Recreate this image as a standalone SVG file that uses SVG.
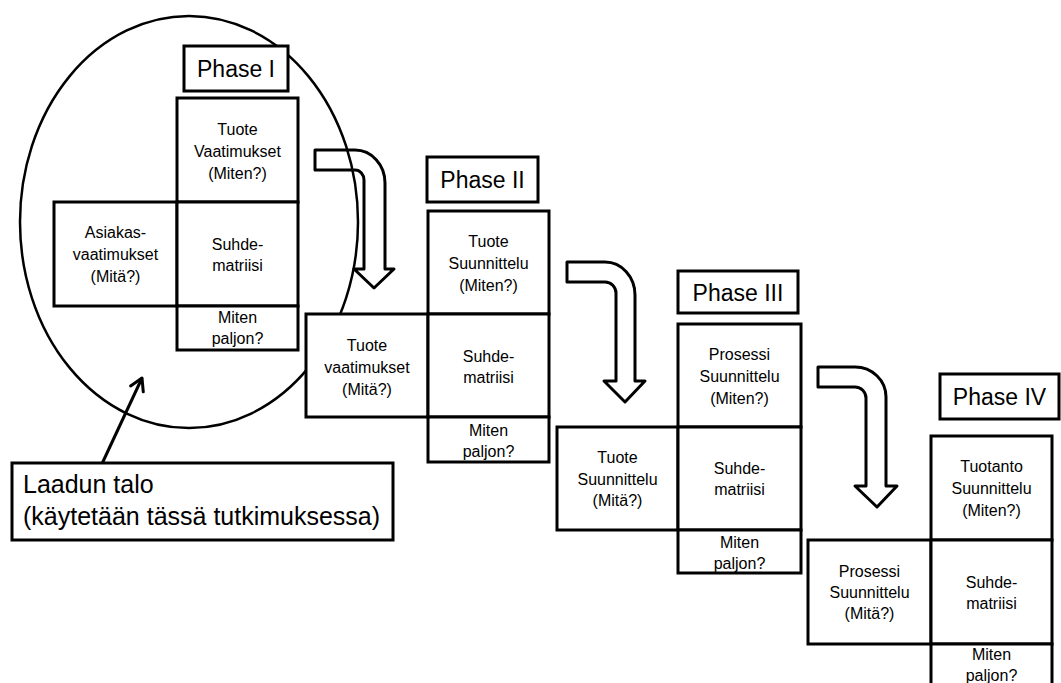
<svg xmlns="http://www.w3.org/2000/svg" width="1061" height="683" viewBox="0 0 1061 683">
<style>
.cell{fill:#fff;stroke:#000;stroke-width:3}
.arr{fill:none;stroke:#000;stroke-width:3;stroke-linejoin:round}
.t{font-family:"Liberation Sans",Arial,sans-serif;font-size:16px;text-anchor:middle;fill:#000}
.ph{font-family:"Liberation Sans",Arial,sans-serif;font-size:23px;text-anchor:middle;fill:#000}
.big{font-family:"Liberation Sans",Arial,sans-serif;font-size:25px;fill:#000}
</style>
<defs>
<marker id="open" viewBox="-14 -10 16 20" refX="0" refY="0" markerWidth="16" markerHeight="20" orient="auto" markerUnits="userSpaceOnUse">
<path d="M-12,-7 L0,0 L-12,7" fill="none" stroke="#000" stroke-width="3" stroke-linecap="round" stroke-linejoin="round"/>
</marker>
</defs>
<rect width="1061" height="683" fill="#fff"/>
<g id="qfd-highlight">
<ellipse cx="189" cy="222" rx="169" ry="206" fill="none" stroke="#000" stroke-width="2.5"/>
</g>
<g id="connectors">
<path class="arr" d="M315,150 H355 A30,33 0 0 1 385,183 V269 H394 L374,288 L354,269 H364 V180 A9,10 0 0 0 355,170 H315 Z"/>
<path class="arr" d="M567,262 H605 A30,33 0 0 1 635,295 V381 H645 L625,402 L604,381 H616 V293 A11,11 0 0 0 605,282 H567 Z"/>
<path class="arr" d="M818,367 H855 A31,30 0 0 1 886,397 V486 H897 L877,507 L855,486 H866 V398 A11,11 0 0 0 855,387 H818 Z"/>
<line x1="100" y1="468" x2="142" y2="378" stroke="#000" stroke-width="3" marker-end="url(#open)"/>
</g>
<g id="phase1">
<rect class="cell" x="184" y="46" width="104" height="45"/>
<text class="ph" x="236" y="77">Phase I</text>
<rect class="cell" x="177" y="98" width="121" height="104"/>
<text class="t" x="237.5" y="135">Tuote</text>
<text class="t" x="237.5" y="157">Vaatimukset</text>
<text class="t" x="237.5" y="179">(Miten?)</text>
<rect class="cell" x="54" y="202" width="123" height="104"/>
<text class="t" x="115.5" y="238">Asiakas-</text>
<text class="t" x="115.5" y="260">vaatimukset</text>
<text class="t" x="115.5" y="282">(Mitä?)</text>
<rect class="cell" x="177" y="202" width="121" height="104"/>
<text class="t" x="237.5" y="250">Suhde-</text>
<text class="t" x="237.5" y="271">matriisi</text>
<rect class="cell" x="177" y="306" width="121" height="44"/>
<text class="t" x="237.5" y="323">Miten</text>
<text class="t" x="237.5" y="344">paljon?</text>
</g>
<g id="phase2">
<rect class="cell" x="427" y="157" width="111" height="45"/>
<text class="ph" x="482.5" y="188">Phase II</text>
<rect class="cell" x="428" y="211" width="121" height="103"/>
<text class="t" x="488.5" y="247">Tuote</text>
<text class="t" x="488.5" y="269">Suunnittelu</text>
<text class="t" x="488.5" y="291">(Miten?)</text>
<rect class="cell" x="306" y="314" width="122" height="103"/>
<text class="t" x="367" y="351">Tuote</text>
<text class="t" x="367" y="373">vaatimukset</text>
<text class="t" x="367" y="395">(Mitä?)</text>
<rect class="cell" x="428" y="314" width="121" height="103"/>
<text class="t" x="488.5" y="362">Suhde-</text>
<text class="t" x="488.5" y="383">matriisi</text>
<rect class="cell" x="428" y="417" width="121" height="45"/>
<text class="t" x="488.5" y="436">Miten</text>
<text class="t" x="488.5" y="457">paljon?</text>
</g>
<g id="phase3">
<rect class="cell" x="678" y="271" width="120" height="42"/>
<text class="ph" x="738" y="300.5">Phase III</text>
<rect class="cell" x="678" y="324" width="123" height="103"/>
<text class="t" x="739.5" y="360">Prosessi</text>
<text class="t" x="739.5" y="382">Suunnittelu</text>
<text class="t" x="739.5" y="404">(Miten?)</text>
<rect class="cell" x="557" y="427" width="121" height="103"/>
<text class="t" x="617.5" y="463">Tuote</text>
<text class="t" x="617.5" y="485">Suunnittelu</text>
<text class="t" x="617.5" y="506">(Mitä?)</text>
<rect class="cell" x="678" y="427" width="123" height="103"/>
<text class="t" x="739.5" y="474">Suhde-</text>
<text class="t" x="739.5" y="495">matriisi</text>
<rect class="cell" x="678" y="530" width="123" height="43"/>
<text class="t" x="739.5" y="548">Miten</text>
<text class="t" x="739.5" y="569">paljon?</text>
</g>
<g id="phase4">
<rect class="cell" x="940" y="374" width="119" height="45"/>
<text class="ph" x="999.5" y="405">Phase IV</text>
<rect class="cell" x="931" y="436" width="121" height="104"/>
<text class="t" x="991.5" y="472">Tuotanto</text>
<text class="t" x="991.5" y="494">Suunnittelu</text>
<text class="t" x="991.5" y="516">(Miten?)</text>
<rect class="cell" x="808" y="540" width="123" height="104"/>
<text class="t" x="869.5" y="577">Prosessi</text>
<text class="t" x="869.5" y="598">Suunnittelu</text>
<text class="t" x="869.5" y="619">(Mitä?)</text>
<rect class="cell" x="931" y="540" width="121" height="104"/>
<text class="t" x="991.5" y="588">Suhde-</text>
<text class="t" x="991.5" y="609">matriisi</text>
<rect class="cell" x="931" y="644" width="121" height="60"/>
<text class="t" x="991.5" y="660">Miten</text>
<text class="t" x="991.5" y="681">paljon?</text>
</g>
<g id="label-laadun-talo">
<rect class="cell" x="12" y="463" width="381" height="77"/>
<text class="big" x="23" y="493">Laadun talo</text>
<text class="big" x="23" y="525">(käytetään tässä tutkimuksessa)</text>
</g>
</svg>
